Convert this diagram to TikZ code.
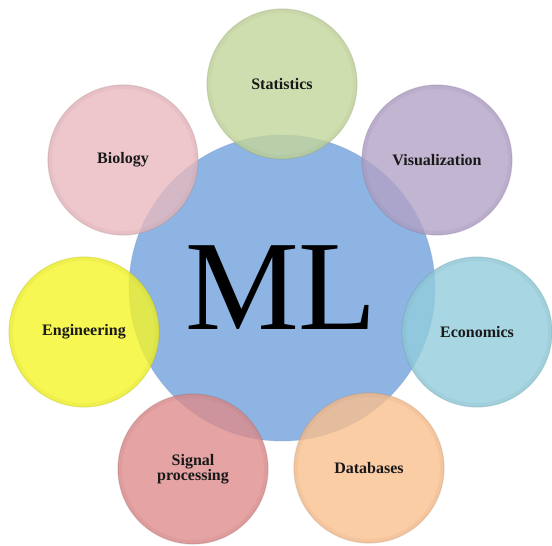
\documentclass[tikz,border=0pt]{standalone}
\usepackage{fontspec}
\setmainfont{Liberation Serif}
\definecolor{mlblue}{RGB}{141,180,227}
\definecolor{cgreen}{RGB}{195,214,155}
\definecolor{cpurple}{RGB}{179,162,199}
\definecolor{ccyan}{RGB}{146,205,220}
\definecolor{corange}{RGB}{250,192,143}
\definecolor{cred}{RGB}{222,140,140}
\definecolor{cyellow}{RGB}{245,245,40}
\definecolor{cpink}{RGB}{232,185,190}
\tikzset{
  core/.style={circle, minimum size=306pt, inner sep=0pt, fill=mlblue,
    draw=mlblue!85!black, draw opacity=0.3, line width=1pt},
  field/.style={circle, minimum size=150pt, inner sep=0pt, fill=#1,
    fill opacity=0.8, text opacity=1, draw=#1!75!black, draw opacity=0.3,
    line width=1.2pt, font=\bfseries\fontsize{16}{15}\selectfont,
    align=center, text=black!90},
  rim/.style={draw=#1!80!black, draw opacity=0.12, line width=4pt},
}
\begin{document}
\begin{tikzpicture}[x=1pt,y=-1pt]
  \useasboundingbox (0,0) rectangle (552,546);
  % central discipline
  \node[core] (ml) at (282,288) {};
  \node[font=\fontsize{128}{128}\selectfont] (mltext) at (281,288) {ML};
  % surrounding fields, every 360/7 degrees around the centre
  \foreach \name/\col/\pos/\txt in {
      stat/cgreen/{(282,84)}/Statistics,
      vis/cpurple/{(437,160)}/Visualization,
      eco/ccyan/{(477,332)}/Economics,
      db/corange/{(369,468)}/Databases,
      sig/cred/{(193,469)}/{Signal\\processing},
      eng/cyellow/{(84,332)}/Engineering,
      bio/cpink/{(123,160)}/Biology} {
    \node[field=\col] (\name) at \pos {\txt};
    \draw[rim=\col] (\name.center) circle[radius=73pt];
  }
\end{tikzpicture}
\end{document}
